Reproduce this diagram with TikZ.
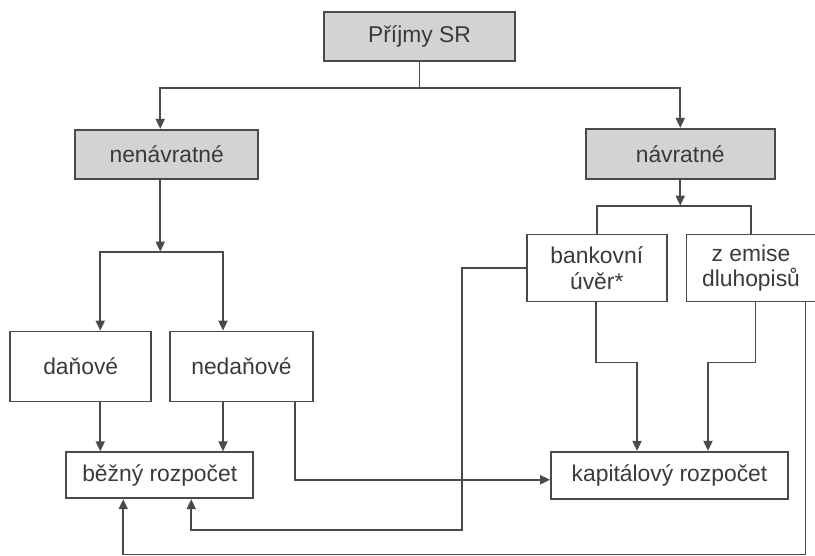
\documentclass[tikz,border=0pt]{standalone}
\usepackage{fontspec}
\setmainfont{Liberation Sans}
\usepackage{xcolor}
\usepackage{tikz}
\usetikzlibrary{arrows.meta,positioning}

\definecolor{linegray}{HTML}{4A4A4A}
\definecolor{boxgray}{HTML}{D3D3D3}
\definecolor{textgray}{HTML}{3A3A3A}

\begin{document}
\begin{tikzpicture}[
  box/.style={rectangle, draw=linegray, line width=1pt, align=center, inner sep=0pt, text=textgray, font=\fontsize{13}{14.5}\selectfont},
  grbox/.style={box, fill=boxgray},
  link/.style={draw=linegray, line width=1pt},
  arrow/.style={link, -{Triangle[length=2mm, width=1.8mm]}}
]
\useasboundingbox (0,0) rectangle (16.3,-11.12);
\node[grbox, minimum width=3.82cm, minimum height=0.98cm] (root) at (8.39,-0.73) {Příjmy SR};
\node[grbox, minimum width=3.66cm, minimum height=0.98cm, below left=1.34cm and 1.28cm of root] (nenavratne) {nenávratné};
\node[grbox, minimum width=3.78cm, minimum height=1.0cm, below right=1.32cm and 1.38cm of root] (navratne) {návratné};
\node[box, minimum width=2.8cm, minimum height=1.34cm, below=1.08cm of navratne, xshift=-1.67cm] (bankovni) {bankovní\\úvěr*};
\node[box, minimum width=2.58cm, minimum height=1.34cm, right=0.36cm of bankovni] (emise) {z emise\\dluhopisů};
\node[box, minimum width=2.82cm, minimum height=1.4cm, below=3.02cm of nenavratne, xshift=-1.72cm] (danove) {daňové};
\node[box, minimum width=2.86cm, minimum height=1.4cm, right=0.34cm of danove] (nedanove) {nedaňové};
\node[box, minimum width=3.74cm, minimum height=0.92cm, below=0.98cm of danove, xshift=1.58cm] (bezny) {běžný rozpočet};
\node[box, minimum width=4.74cm, minimum height=0.94cm, right=5.92cm of bezny] (kapital) {kapitálový rozpočet};
% branching points
\coordinate[below=0.52cm of root] (split1);
\coordinate[below=1.44cm of nenavratne.south, xshift=-0.13cm] (split2);
\coordinate[below=0.52cm of navratne] (split3);
\draw[link] (root) -- (split1);
\draw[arrow] (split1) -| ([xshift=-0.13cm]nenavratne.north);
\draw[arrow] (split1) -| (navratne);
\draw[arrow] ([xshift=-0.13cm]nenavratne.south) -- (split2);
\draw[arrow] (split2) -| ([xshift=0.39cm]danove.north);
\draw[arrow] (split2) -| ([xshift=-0.37cm]nedanove.north);
\draw[arrow] (navratne) -- (split3);
\draw[link] (split3) -| (bankovni);
\draw[link] (split3) -| (emise);
% into the budgets
\draw[arrow] ([xshift=0.39cm]danove.south) -- ([xshift=0.39cm]danove.south |- bezny.north);
\draw[arrow] ([xshift=-0.37cm]nedanove.south) -- ([xshift=-0.37cm]nedanove.south |- bezny.north);
\draw[arrow] ([xshift=1.07cm]nedanove.south) |- ([yshift=-0.09cm]kapital.west);
\draw[arrow] ([xshift=-0.02cm]bankovni.south) -- ++(0,-1.2) -| ([xshift=-0.65cm]kapital.north);
\draw[arrow] ([xshift=0.09cm]emise.south) -- ++(0,-1.2) -| ([xshift=0.77cm]kapital.north);
\draw[arrow] (bankovni.west) -- ++(-1.28,0) -- ++(0,-5.24) -| ([xshift=0.63cm]bezny.south);
\draw[arrow] ([xshift=1.09cm]emise.south) -- ++(0,-5.04) -| ([xshift=-0.73cm]bezny.south);
\end{tikzpicture}
\end{document}
